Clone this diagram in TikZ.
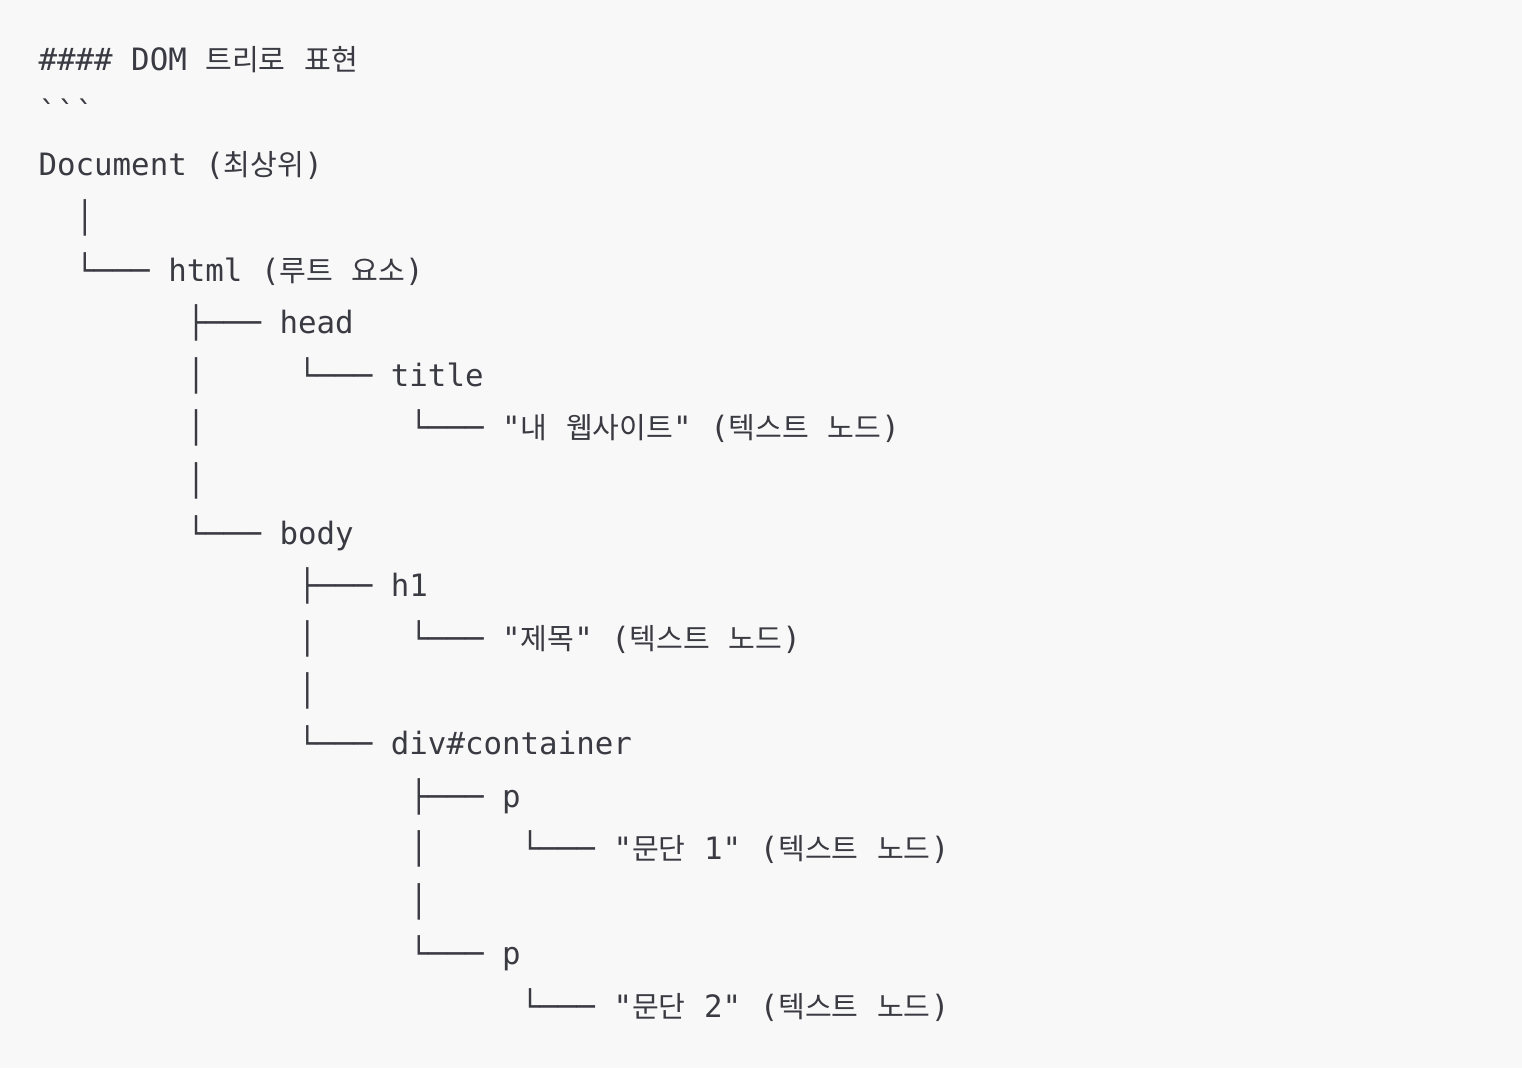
\documentclass[tikz,border=0pt]{standalone}
\usepackage{fontspec}
\setmonofont{DejaVu Sans Mono}
\newfontfamily\krfont{Noto Sans CJK KR}[Scale=0.945]
\newcommand{\K}[1]{{\krfont #1}}
\definecolor{bgcol}{HTML}{F8F8F8}
\definecolor{txtcol}{HTML}{3A3A42}
\tikzset{
  codeline/.style={anchor=base west, inner sep=0pt, outer sep=0pt, text=txtcol,
    font=\ttfamily\fontsize{30.8}{36}\selectfont},
}
\newcommand{\cx}[1]{38.5+#1*18.55}
\newcommand{\by}[1]{70.7+#1*52.6}
\begin{document}
\begin{tikzpicture}[x=1pt,y=-1pt]
\fill[bgcol] (0,0) rectangle (1522,1068);
\useasboundingbox (0,0) rectangle (1522,1068);
\node[codeline] (l0)  at ({\cx{0}},{\by{0}})  {\#\#\#\# DOM \K{트리로} \K{표현}};
\node[codeline] (l1)  at ({\cx{0}},{\by{1}})  {\symbol{96}\symbol{96}\symbol{96}};
\node[codeline] (doc) at ({\cx{0}},{\by{2}})  {Document (\K{최상위})};
\node[codeline] (v3)  at ({\cx{2}},{\by{3}})  {│};
\node[codeline] (html) at ({\cx{2}},{\by{4}}) {└─── html (\K{루트} \K{요소})};
\node[codeline] (head) at ({\cx{8}},{\by{5}}) {├─── head};
\node[codeline] (v6)  at ({\cx{8}},{\by{6}})  {│};
\node[codeline] (title) at ({\cx{14}},{\by{6}}) {└─── title};
\node[codeline] (t1)  at ({\cx{20}},{\by{7}}) {└─── "\K{내} \K{웹사이트}" (\K{텍스트} \K{노드})};
\node[codeline] (v7)  at ({\cx{8}},{\by{7}})  {│};
\node[codeline] (v8)  at ({\cx{8}},{\by{8}})  {│};
\node[codeline] (body) at ({\cx{8}},{\by{9}}) {└─── body};
\node[codeline] (h1)  at ({\cx{14}},{\by{10}}) {├─── h1};
\node[codeline] (v11) at ({\cx{14}},{\by{11}}) {│};
\node[codeline] (t2)  at ({\cx{20}},{\by{11}}) {└─── "\K{제목}" (\K{텍스트} \K{노드})};
\node[codeline] (v12) at ({\cx{14}},{\by{12}}) {│};
\node[codeline] (div) at ({\cx{14}},{\by{13}}) {└─── div\#container};
\node[codeline] (p1)  at ({\cx{20}},{\by{14}}) {├─── p};
\node[codeline] (v15) at ({\cx{20}},{\by{15}}) {│};
\node[codeline] (t3)  at ({\cx{26}},{\by{15}}) {└─── "\K{문단} 1" (\K{텍스트} \K{노드})};
\node[codeline] (v16) at ({\cx{20}},{\by{16}}) {│};
\node[codeline] (p2)  at ({\cx{20}},{\by{17}}) {└─── p};
\node[codeline] (t4)  at ({\cx{26}},{\by{18}}) {└─── "\K{문단} 2" (\K{텍스트} \K{노드})};
\end{tikzpicture}
\end{document}
